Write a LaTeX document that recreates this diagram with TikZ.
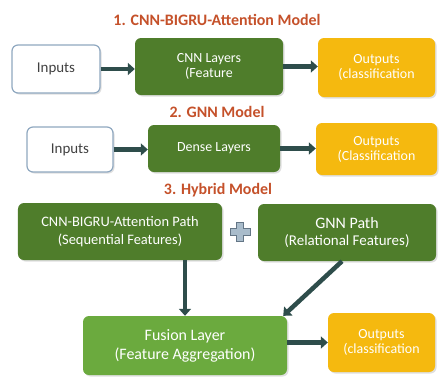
\documentclass[tikz,border=0pt]{standalone}
\usepackage{fontspec}
\setmainfont{Carlito}
\usetikzlibrary{arrows.meta,shadows}
\definecolor{titlered}{HTML}{C5512A}
\definecolor{boxgreen}{HTML}{4F7D2B}
\definecolor{fusegreen}{HTML}{6BAA3E}
\definecolor{outyellow}{HTML}{F5B90F}
\definecolor{arrowdark}{HTML}{2E4D4B}
\definecolor{inborder}{HTML}{8FA8C0}
\definecolor{plusblue}{HTML}{A9BCCB}
\tikzset{
  box/.style={rounded corners=6bp, align=center, font=\fontsize{14}{15}\selectfont,
    drop shadow={shadow xshift=1.5bp, shadow yshift=-1.5bp, opacity=0.25}},
  inbox/.style={box, draw=inborder, line width=1.2bp, fill=white, text=black!75, font=\fontsize{15}{16}\selectfont},
  greenbox/.style={box, fill=boxgreen, text=white},
  fusebox/.style={box, fill=fusegreen, text=white, font=\fontsize{16}{19}\selectfont},
  outbox/.style={box, fill=outyellow, text=white},
  modeltitle/.style={text=titlered, font=\bfseries\fontsize{16}{18}\selectfont},
  arr/.style={draw=arrowdark, line width=4.5bp, -{Triangle[length=7bp,width=12bp]}}
}
\begin{document}
\begin{tikzpicture}[x=1bp,y=-1bp]
  \useasboundingbox[fill=white] (0,0) rectangle (441,376);
  % 1. CNN-BIGRU-Attention
  \node[modeltitle] (t1) at (217,20) {1. CNN-BIGRU-Attention Model};
  \node[inbox, minimum width=88bp, minimum height=48bp] (in1) at (56,69) {Inputs};
  \node[greenbox, minimum width=148bp, minimum height=57bp] (cnn1) at (209,66.5) {CNN Layers\\(Feature};
  \node[outbox, minimum width=117bp, minimum height=59bp] (out1) at (376.5,67.5) {Outputs\\(classification};
  \draw[arr] (in1.east) -- (cnn1.west |- in1.east);
  \draw[arr] (cnn1.east) -- (out1.west |- cnn1.east);
  % 2. GNN
  \node[modeltitle] (t2) at (217,112) {2. GNN Model};
  \node[inbox, minimum width=86bp, minimum height=45bp] (in2) at (70,149.5) {Inputs};
  \node[greenbox, minimum width=132bp, minimum height=47bp] (dense) at (214,148.5) {Dense Layers};
  \node[outbox, minimum width=121bp, minimum height=52bp] (out2) at (376.5,149) {Outputs\\(Classification};
  \draw[arr] (in2.east) -- (dense.west |- in2.east);
  \draw[arr] (dense.east) -- (out2.west |- dense.east);
  % 3. Hybrid
  \node[modeltitle] (t3) at (218,190) {3. Hybrid Model};
  \node[greenbox, minimum width=204bp, minimum height=57bp, font=\fontsize{14.5}{18}\selectfont] (seq) at (120,231.5) {CNN-BIGRU-Attention Path\\(Sequential Features)};
  \node[greenbox, minimum width=178bp, minimum height=57bp, font=\fontsize{16}{18}\selectfont] (gnnp) at (347,232.5) {GNN Path\\{\fontsize{15}{18}\selectfont(Relational Features)}};
  \filldraw[fill=plusblue, draw=inborder!70!black, line width=0.6bp]
    (236.5,222) -- (243.5,222) -- (243.5,228) -- (250,228) -- (250,235) -- (243.5,235)
    -- (243.5,241) -- (236.5,241) -- (236.5,235) -- (230,235) -- (230,228) -- (236.5,228) -- cycle;
  \node[fusebox, minimum width=204bp, minimum height=59bp] (fusion) at (185,345.5) {Fusion Layer\\(Feature Aggregation)};
  \node[outbox, minimum width=107bp, minimum height=59bp] (out3) at (381.5,342.5) {Outputs\\(classification};
  \draw[arr] (seq.south -| fusion.north) -- (fusion.north);
  \draw[arr] ([xshift=-5bp]gnnp.south) -- ([xshift=-4bp]fusion.north east);
  \draw[arr] (fusion.east |- out3.west) -- (out3.west);
\end{tikzpicture}
\end{document}
